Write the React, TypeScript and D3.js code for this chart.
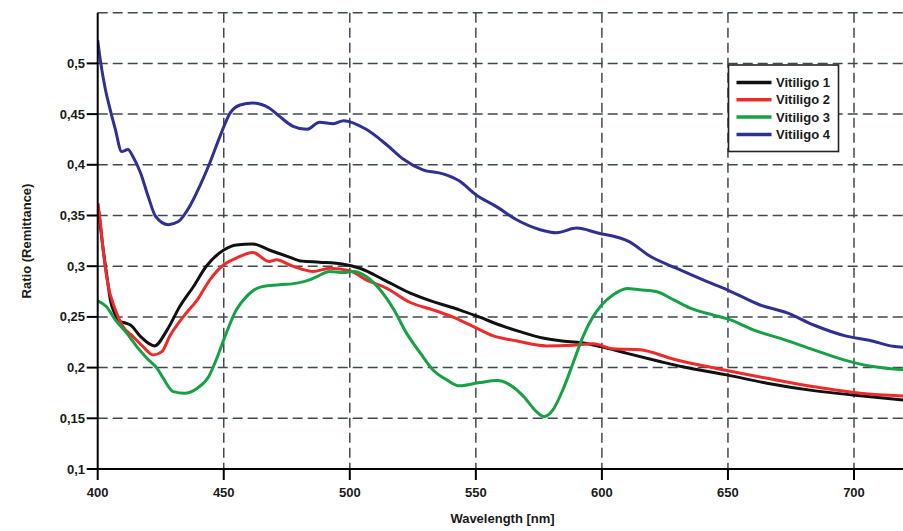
import React from "react";
import * as d3 from "d3";

const xTicks = [400, 450, 500, 550, 600, 650, 700];
const yTicks = [0.1, 0.15, 0.2, 0.25, 0.3, 0.35, 0.4, 0.45, 0.5];
const yGrid = [0.15, 0.2, 0.25, 0.3, 0.35, 0.4, 0.45, 0.5, 0.55];
const seriesNames = ["Vitiligo 1", "Vitiligo 2", "Vitiligo 3", "Vitiligo 4"];
const seriesColors = ["#111111", "#ee2a2a", "#17a045", "#2f3192"];

const v1nm = [400, 402, 404, 405, 407, 409, 411, 413, 417, 422.5, 427.5, 432.5, 438, 443, 450, 455, 461.5, 468, 476, 481, 488, 497.5, 504, 513.5, 524, 533, 543.5, 551.5, 559.5, 567.5, 577, 583.5, 592, 599.5, 610, 623, 631.5, 649.5, 665.5, 684, 699.5, 720];
const v1val = [0.362, 0.32, 0.284, 0.267, 0.252, 0.2454, 0.244, 0.242, 0.2306, 0.2214, 0.237, 0.26, 0.28, 0.2997, 0.316, 0.321, 0.322, 0.316, 0.309, 0.305, 0.304, 0.302, 0.298, 0.2866, 0.2734, 0.265, 0.257, 0.2497, 0.242, 0.2355, 0.229, 0.2264, 0.2245, 0.2207, 0.214, 0.206, 0.201, 0.1928, 0.1846, 0.1773, 0.173, 0.168];

const v2nm = [400, 401, 402, 404, 407, 410, 414, 418, 422, 425.5, 428.5, 434, 439.5, 444.5, 450, 455, 461.5, 468, 471, 476, 481, 485.5, 492, 500, 506.5, 514.5, 524, 533, 541, 549, 557, 566, 578, 588.5, 596.5, 604.5, 615, 628.5, 647, 665.5, 684, 702.5, 720];
const v2val = [0.362, 0.345, 0.3195, 0.283, 0.257, 0.2405, 0.2306, 0.2207, 0.2125, 0.2158, 0.2306, 0.2503, 0.2668, 0.2866, 0.3014, 0.308, 0.3136, 0.3046, 0.3063, 0.3014, 0.297, 0.2948, 0.298, 0.2955, 0.2866, 0.2784, 0.2642, 0.257, 0.2497, 0.2405, 0.2313, 0.2264, 0.2214, 0.2221, 0.2234, 0.2185, 0.2175, 0.2083, 0.1984, 0.1895, 0.1812, 0.1747, 0.172];

const v3nm = [400, 403.5, 407, 411.5, 415.5, 419.5, 423.5, 426, 430, 434.5, 439.5, 444, 447, 451, 455, 459, 464.5, 472, 479, 484, 487, 492, 497.5, 501.5, 506.5, 512, 517.5, 522.5, 528, 533, 538.5, 543.5, 551.5, 558.5, 563.5, 569, 574, 577, 580.5, 584.5, 588.5, 592.5, 596.5, 600, 604.5, 610, 615, 621.5, 628.5, 635, 644, 651, 660, 670.5, 684, 696, 707.5, 720];
const v3val = [0.2658, 0.26, 0.247, 0.234, 0.2207, 0.2093, 0.1994, 0.1895, 0.1763, 0.1747, 0.1797, 0.191, 0.2076, 0.234, 0.257, 0.27, 0.2794, 0.2816, 0.2833, 0.2866, 0.2898, 0.2948, 0.2938, 0.2948, 0.2898, 0.2767, 0.257, 0.234, 0.2142, 0.1977, 0.1879, 0.182, 0.1852, 0.1872, 0.183, 0.1714, 0.1566, 0.1516, 0.158, 0.178, 0.204, 0.2306, 0.2503, 0.262, 0.2718, 0.278, 0.2767, 0.275, 0.2668, 0.2586, 0.252, 0.247, 0.2372, 0.229, 0.2175, 0.2076, 0.201, 0.1977];

const v4nm = [400, 401, 403, 405, 407, 409.5, 412, 414, 417, 420, 423, 428, 432, 436.5, 440.5, 444.5, 448.5, 452.5, 456.5, 461.5, 468, 472, 477.5, 483, 488, 493.5, 497.5, 506.5, 514.5, 521, 529, 537, 543.5, 550, 558, 566, 575.5, 582, 590, 598, 611, 619, 629.5, 641.5, 649.5, 662.5, 673.5, 684, 697, 706, 715.5, 720];
const v4val = [0.523, 0.504, 0.475, 0.454, 0.435, 0.413, 0.415, 0.408, 0.392, 0.369, 0.349, 0.341, 0.344, 0.359, 0.379, 0.402, 0.428, 0.451, 0.459, 0.461, 0.456, 0.448, 0.438, 0.435, 0.442, 0.4405, 0.4435, 0.435, 0.42, 0.406, 0.395, 0.391, 0.384, 0.3705, 0.359, 0.346, 0.336, 0.333, 0.3376, 0.333, 0.324, 0.31, 0.298, 0.285, 0.277, 0.262, 0.254, 0.242, 0.231, 0.227, 0.221, 0.22];

const seriesNm = [v1nm, v2nm, v3nm, v4nm];
const seriesVal = [v1val, v2val, v3val, v4val];

const W = 903;
const H = 531;
const x0 = 97.7;
const yBottom = 469;
const yTop = 12.7;

const font = "Liberation Sans, Arial, sans-serif";
const fs = 13;
const fmt = (v: number) => String(+v.toFixed(2)).replace(".", ",");

export default function App() {
  const x = d3.scaleLinear().domain([400, 700]).range([x0, 854]);
  const y = d3.scaleLinear().domain([0.1, 0.55]).range([yBottom, yTop]);
  const xRight = W;
  const line = d3
    .line<[number, number]>()
    .x((d) => x(d[0]))
    .y((d) => y(d[1]))
    .curve(d3.curveMonotoneX);
  const gridColor = "#3f4951";
  const textProps = { fontSize: fs, fontWeight: "bold" as const, fill: "#1a1a1a" };
  return (
    <svg
      width={W}
      height={H}
      style={{ position: "absolute", left: 0, top: 0, background: "#fff" }}
      fontFamily={font}
    >
      <defs>
        <clipPath id="plot">
          <rect x={x0} y={0} width={xRight - x0} height={yBottom} />
        </clipPath>
      </defs>
      {yGrid.map((t) => (
        <line
          key={"hg" + t}
          x1={x0}
          x2={xRight}
          y1={y(t)}
          y2={y(t)}
          stroke={gridColor}
          strokeWidth={1.5}
          strokeDasharray="10,5"
        />
      ))}
      {xTicks.slice(1).map((t) => (
        <line
          key={"vg" + t}
          x1={x(t)}
          x2={x(t)}
          y1={yTop}
          y2={yBottom}
          stroke={gridColor}
          strokeWidth={1.5}
          strokeDasharray="10,5"
        />
      ))}
      <g clipPath="url(#plot)">
        {seriesNm.map((nm, i) => (
          <path
            key={"s" + i}
            d={line(nm.map((n, j) => [n, seriesVal[i][j]] as [number, number])) || ""}
            fill="none"
            stroke={seriesColors[i]}
            strokeWidth={3}
            strokeLinejoin="round"
          />
        ))}
      </g>
      {/* axes */}
      <line x1={x0} x2={x0} y1={yTop} y2={yBottom + 1} stroke="#000" strokeWidth={2} />
      <line x1={x0 - 1} x2={xRight} y1={yBottom} y2={yBottom} stroke="#000" strokeWidth={2} />
      {yTicks.map((t) => (
        <g key={"yt" + t}>
          <line x1={x0 - 11} x2={x0} y1={y(t)} y2={y(t)} stroke="#000" strokeWidth={2} />
          <text x={85} y={y(t)} textAnchor="end" dominantBaseline="central" {...textProps}>
            {fmt(t)}
          </text>
        </g>
      ))}
      {xTicks.map((t) => (
        <g key={"xt" + t}>
          <line x1={x(t)} x2={x(t)} y1={yBottom} y2={yBottom + 11} stroke="#000" strokeWidth={2} />
          <text x={x(t)} y={497} textAnchor="middle" {...textProps}>
            {t}
          </text>
        </g>
      ))}
      <text x={502.5} y={523} textAnchor="middle" {...textProps}>
        Wavelength [nm]
      </text>
      <text
        transform={`translate(26.5,241) rotate(-90)`}
        textAnchor="middle"
        dominantBaseline="central"
        {...textProps}
      >
        Ratio (Remittance)
      </text>
      {/* legend */}
      <rect x={728.5} y={65} width={110} height={86.5} fill="#fff" stroke="#222" strokeWidth={1.6} />
      {seriesNames.map((name, i) => {
        const ly = 82.5 + i * 17.3;
        return (
          <g key={"lg" + i}>
            <line x1={736.5} x2={771.5} y1={ly} y2={ly} stroke={seriesColors[i]} strokeWidth={3.5} />
            <text x={776} y={ly} dominantBaseline="central" {...textProps}>
              {name}
            </text>
          </g>
        );
      })}
    </svg>
  );
}
